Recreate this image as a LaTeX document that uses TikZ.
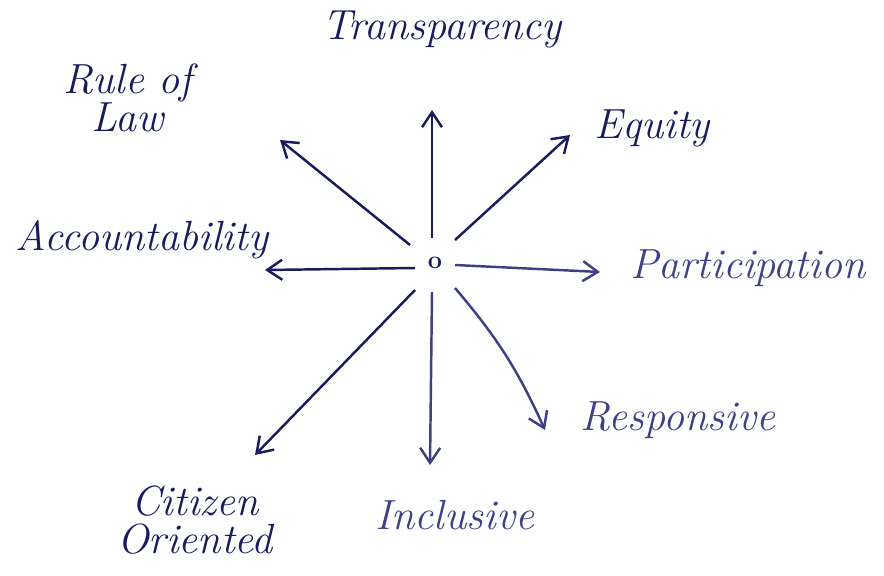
\documentclass[tikz,border=0pt]{standalone}
\usetikzlibrary{arrows.meta}

\definecolor{ink}{RGB}{24,28,92}
\definecolor{inklight}{RGB}{62,64,132}

\begin{document}
\begin{tikzpicture}[x=0.02cm, y=-0.02cm,
  word/.style={font=\fontsize{24}{26}\selectfont\itshape, text=ink, align=center, inner sep=1pt},
  arrow/.style={-{Straight Barb[length=3mm, width=4mm]}, line width=1.4pt, draw=ink},
]

\useasboundingbox (0,0) rectangle (884,575);

% === CENTRE ===
\node[font=\Large\bfseries, text=ink, inner sep=0pt] (o) at (435,263) {o};

% === LABELS ===
\node[word] (transp) at (442,30) {Transparency};
\node[word] (rule) at (128,98) {Rule of\\[-4pt]Law};
\node[word] (equity) at (652,128) {Equity};
\node[word] (account) at (142,240) {Accountability};
\node[word, text=inklight] (partic) at (748,268) {Participation};
\node[word, text=inklight] (resp) at (678,420) {Responsive};
\node[word, text=inklight] (incl) at (455,515) {Inclusive};
\node[word] (citizen) at (195,520) {Citizen\\[-4pt]Oriented};

% === ARROW ENDS ===
\coordinate (sT) at (432,238);  \coordinate (aT) at (432,110);
\coordinate (sR) at (410,245);  \coordinate (aR) at (280,140);
\coordinate (sE) at (455,240);  \coordinate (aE) at (570,135);
\coordinate (sA) at (415,268);  \coordinate (aA) at (265,270);
\coordinate (sP) at (455,265);  \coordinate (aP) at (600,272);
\coordinate (sS) at (455,288);  \coordinate (aS) at (545,430);
\coordinate (sI) at (432,292);  \coordinate (aI) at (430,465);
\coordinate (sC) at (415,290);  \coordinate (aC) at (255,455);

\draw[arrow] (sT) -- (aT);
\draw[arrow] (sR) -- (aR);
\draw[arrow] (sE) -- (aE);
\draw[arrow] (sA) -- (aA);
\draw[arrow, draw=inklight] (sP) -- (aP);
\draw[arrow, draw=inklight] (sS) to[bend left=8] (aS);
\draw[arrow, draw=inklight] (sI) -- (aI);
\draw[arrow] (sC) -- (aC);
\end{tikzpicture}
\end{document}
